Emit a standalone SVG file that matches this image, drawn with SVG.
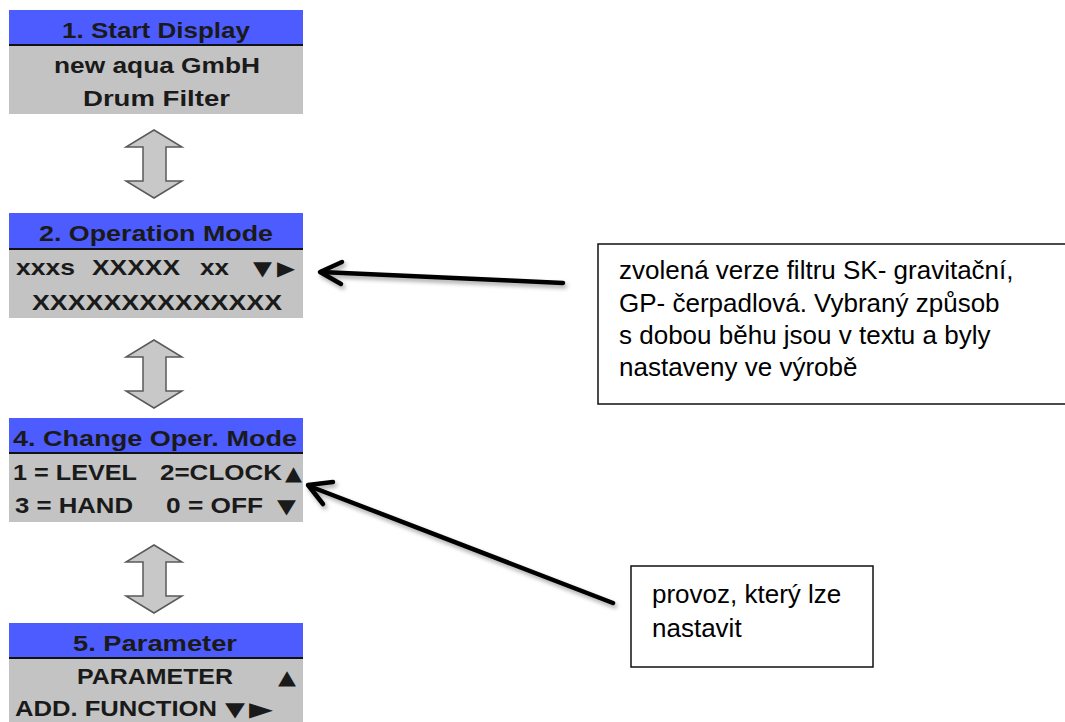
<svg xmlns="http://www.w3.org/2000/svg" width="1065" height="722" viewBox="0 0 1065 722">
<style>
.hdr{fill:#4d5cff}
.body{fill:#c3c3c3}
.sep{stroke:#111;stroke-width:2}
.pt{font-family:"Liberation Sans",Arial,sans-serif;font-weight:bold;font-size:22px;fill:#1a1a1a}
.tri{font-family:"DejaVu Sans",sans-serif;font-size:20px;fill:#1a1a1a}
.dbl{fill:#c8c8c8;stroke:#5a5a5a;stroke-width:1.5;stroke-linejoin:miter}
.note{fill:#fff;stroke:#111;stroke-width:1.5}
.nt{font-family:"Liberation Sans",Arial,sans-serif;font-size:26px;fill:#000}
.conn{fill:none;stroke:#000;stroke-width:4.5;stroke-linecap:round;stroke-linejoin:round}
</style>
<defs>
<filter id="sh" x="-10%" y="-20%" width="130%" height="160%">
<feDropShadow dx="2" dy="3" stdDeviation="2" flood-color="#000" flood-opacity="0.35"/>
</filter>
<polygon id="dbla" points="28,0 56,17 40,17 40,51 56,51 28,68 0,51 17,51 17,17 0,17"/>
</defs>
<rect width="1065" height="722" fill="#fff"/>

<g id="panel1">
<rect class="hdr" x="9" y="10" width="294" height="35"/>
<rect class="body" x="9" y="45" width="294" height="69"/>
<line class="sep" x1="9" y1="45" x2="303" y2="45"/>
<text class="pt" x="62" y="38" textLength="188" lengthAdjust="spacingAndGlyphs">1. Start Display</text>
<text class="pt" x="54" y="73" textLength="206" lengthAdjust="spacingAndGlyphs">new aqua GmbH</text>
<text class="pt" x="83" y="106" textLength="147" lengthAdjust="spacingAndGlyphs">Drum  Filter</text>
</g>

<g id="arrow1">
<use href="#dbla" class="dbl" x="126" y="130"/>
</g>

<g id="panel2">
<rect class="hdr" x="9" y="213" width="294" height="36"/>
<rect class="body" x="9" y="249" width="294" height="69"/>
<line class="sep" x1="9" y1="249" x2="303" y2="249"/>
<text class="pt" x="39" y="241" textLength="234" lengthAdjust="spacingAndGlyphs">2. Operation Mode</text>
<text class="pt" x="16" y="275" textLength="59" lengthAdjust="spacingAndGlyphs">xxxs</text>
<text class="pt" x="92" y="275" textLength="88" lengthAdjust="spacingAndGlyphs">XXXXX</text>
<text class="pt" x="200" y="275" textLength="29" lengthAdjust="spacingAndGlyphs">xx</text>
<text class="tri" x="253" y="275" textLength="19" lengthAdjust="spacingAndGlyphs">▼</text>
<text class="tri" x="277" y="275" textLength="18" lengthAdjust="spacingAndGlyphs">▶</text>
<text class="pt" x="32" y="310" textLength="250" lengthAdjust="spacingAndGlyphs">XXXXXXXXXXXXXX</text>
</g>

<g id="arrow2">
<use href="#dbla" class="dbl" x="126" y="340"/>
</g>

<g id="panel4">
<rect class="hdr" x="9" y="418" width="294" height="35"/>
<rect class="body" x="9" y="453" width="294" height="69"/>
<line class="sep" x1="9" y1="453" x2="303" y2="453"/>
<text class="pt" x="13" y="446" textLength="284" lengthAdjust="spacingAndGlyphs">4. Change Oper. Mode</text>
<text class="pt" x="13" y="480" textLength="124" lengthAdjust="spacingAndGlyphs">1 = LEVEL</text>
<text class="pt" x="160" y="480" textLength="122" lengthAdjust="spacingAndGlyphs">2=CLOCK</text>
<text class="tri" x="285" y="480" textLength="17" lengthAdjust="spacingAndGlyphs">▲</text>
<text class="pt" x="15" y="513" textLength="118" lengthAdjust="spacingAndGlyphs">3 = HAND</text>
<text class="pt" x="166" y="513" textLength="97" lengthAdjust="spacingAndGlyphs">0 = OFF</text>
<text class="tri" x="277" y="513" textLength="19" lengthAdjust="spacingAndGlyphs">▼</text>
</g>

<g id="arrow3">
<use href="#dbla" class="dbl" x="126" y="545"/>
</g>

<g id="panel5">
<rect class="hdr" x="9" y="623" width="294" height="35"/>
<rect class="body" x="9" y="658" width="294" height="64"/>
<line class="sep" x1="9" y1="658" x2="303" y2="658"/>
<text class="pt" x="73" y="651" textLength="164" lengthAdjust="spacingAndGlyphs">5. Parameter</text>
<text class="pt" x="77" y="684" textLength="156" lengthAdjust="spacingAndGlyphs">PARAMETER</text>
<text class="tri" x="278" y="684" textLength="18" lengthAdjust="spacingAndGlyphs">▲</text>
<text class="pt" x="15" y="716" textLength="202" lengthAdjust="spacingAndGlyphs">ADD. FUNCTION</text>
<text class="tri" x="225" y="716" textLength="20" lengthAdjust="spacingAndGlyphs">▼</text>
<text class="tri" x="249" y="716" textLength="24" lengthAdjust="spacingAndGlyphs">▶</text>
</g>

<g id="note1">
<rect class="note" x="598" y="244" width="480" height="160"/>
<text class="nt" x="619" y="279">zvolená verze filtru SK- gravitační,</text>
<text class="nt" x="619" y="312">GP- čerpadlová. Vybraný způsob</text>
<text class="nt" x="619" y="344">s dobou běhu jsou v textu a byly</text>
<text class="nt" x="619" y="376">nastaveny ve výrobě</text>
</g>

<g id="note2">
<rect class="note" x="631" y="566" width="242" height="101"/>
<text class="nt" x="652" y="603">provoz, který lze</text>
<text class="nt" x="652" y="637">nastavit</text>
</g>

<g id="connectors" filter="url(#sh)">
<path class="conn" d="M563,283 L321,272"/>
<path class="conn" d="M342,262 L320,272 L341,284"/>
<path class="conn" d="M613,603 L309,486"/>
<path class="conn" d="M333,482 L308,485 L323,504"/>
</g>
</svg>
